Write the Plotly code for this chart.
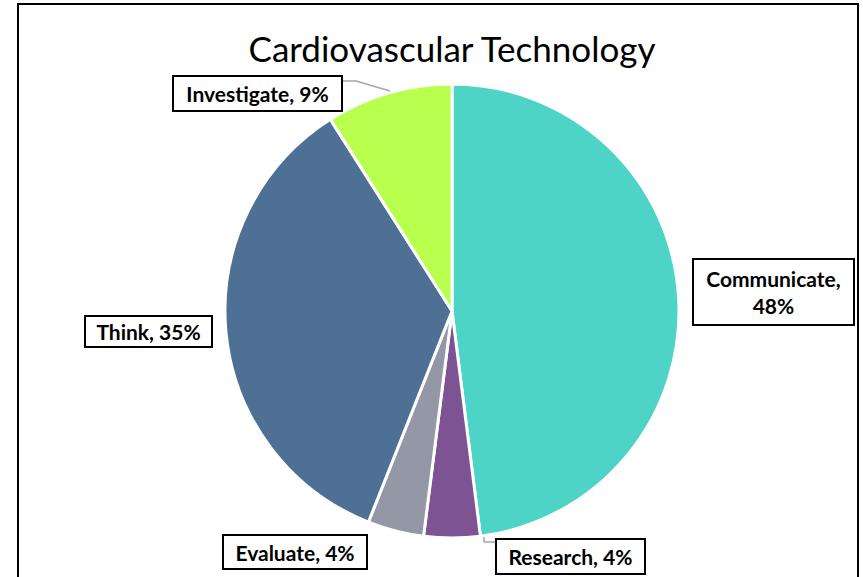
import plotly.graph_objects as go

categories = ["Communicate", "Research", "Evaluate", "Think", "Investigate"]
values = [48, 4, 4, 35, 9]
colors = ["#4DD4C6", "#7E5394", "#9497A5", "#4D7094", "#B9FF4D"]
title_text = "Cardiovascular Technology"

W, H = 863, 577
cx, cy, r = 452, 311, 227

def px(x):
    return x / W

def py(y):
    return 1 - y / H

fig = go.Figure(go.Pie(
    labels=categories,
    values=values,
    sort=False,
    direction="clockwise",
    rotation=0,
    marker=dict(colors=colors, line=dict(color="white", width=3)),
    textinfo="none",
    hoverinfo="label+percent",
    domain=dict(x=[px(cx - r), px(cx + r)], y=[py(cy + r), py(cy - r)]),
    showlegend=False,
))

# label boxes: (center x, center y, width, height) in pixels
boxes = {
    "Communicate": (773, 292, 163, 68),
    "Research": (570, 556, 151, 37),
    "Evaluate": (295, 552, 146, 36),
    "Think": (148, 331, 129, 33),
    "Investigate": (257, 94, 171, 37),
}
total = sum(values)
annotations = []
for cat, v in zip(categories, values):
    bx, by, bw, bh = boxes[cat]
    pct = round(100 * v / total)
    txt = f"{cat},<br>{pct}%" if cat == "Communicate" else f"{cat}, {pct}%"
    annotations.append(dict(
        x=px(bx), y=py(by), xref="paper", yref="paper",
        text=f"<b>{txt}</b>", showarrow=False,
        font=dict(family="Lato, Liberation Sans", size=21, color="black"),
        bgcolor="white", bordercolor="black", borderwidth=2, borderpad=0,
        width=bw - 4, height=bh - 4, align="center", valign="middle",
        xanchor="center", yanchor="middle",
    ))

shapes = [
    # chart frame
    dict(type="rect", xref="paper", yref="paper",
         x0=px(18), x1=px(858), y0=-0.2, y1=py(4),
         line=dict(color="black", width=2), fillcolor="rgba(0,0,0,0)", layer="below"),
    # leader lines
    dict(type="path", xref="paper", yref="paper",
         path=f"M {px(343)} {py(81)} L {px(356)} {py(81)} L {px(390)} {py(91)}",
         line=dict(color="#A6A6A6", width=1.5)),
    dict(type="path", xref="paper", yref="paper",
         path=f"M {px(484)} {py(537)} L {px(484)} {py(542)} L {px(495)} {py(542)}",
         line=dict(color="#A6A6A6", width=1.5)),
]

fig.update_layout(
    width=W, height=H,
    margin=dict(l=0, r=0, t=0, b=0),
    paper_bgcolor="white", plot_bgcolor="white",
    title=dict(text=title_text, x=px(452), xanchor="center", y=py(50), yanchor="middle",
               font=dict(family="Lato, Liberation Sans", size=35, color="black")),
    annotations=annotations,
    shapes=shapes,
)

fig.write_html("out.html", config={"displayModeBar": False},
               post_script="document.body.style.margin='0';")
